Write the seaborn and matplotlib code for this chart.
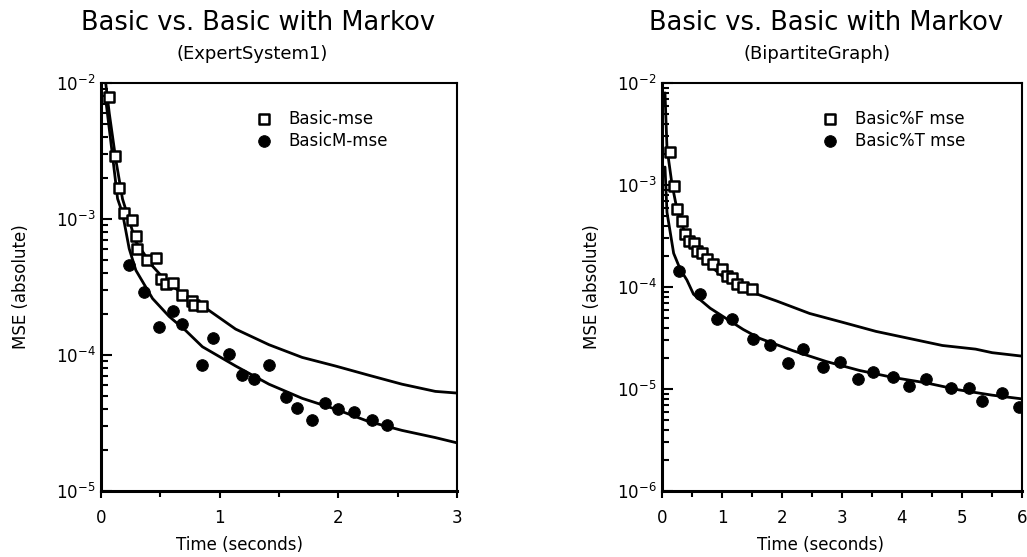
import numpy as np
import pandas as pd
import matplotlib
matplotlib.use('Agg')
import matplotlib.pyplot as plt
import matplotlib.ticker as mticker
import seaborn as sns

# ExpertSystem1 panel
es_basic_t = [0.07, 0.12, 0.154, 0.196, 0.26, 0.294, 0.308, 0.39, 0.46, 0.505,
              0.547, 0.608, 0.687, 0.765, 0.785, 0.855]
es_basic_mse = [7.9e-3, 2.9e-3, 1.69e-3, 1.1e-3, 9.8e-4, 7.5e-4, 6.05e-4, 5.0e-4,
                5.2e-4, 3.6e-4, 3.3e-4, 3.4e-4, 2.76e-4, 2.5e-4, 2.33e-4, 2.3e-4]
es_markov_t = [0.233, 0.364, 0.49, 0.603, 0.687, 0.855, 0.945, 1.08, 1.186, 1.29,
               1.416, 1.556, 1.654, 1.775, 1.892, 1.999, 2.131, 2.285, 2.41]
es_markov_mse = [4.6e-4, 2.9e-4, 1.6e-4, 2.1e-4, 1.7e-4, 8.5e-5, 1.34e-4, 1.02e-4,
                 7.1e-5, 6.7e-5, 8.5e-5, 4.95e-5, 4.1e-5, 3.34e-5, 4.4e-5, 4.0e-5,
                 3.78e-5, 3.34e-5, 3.05e-5]
es_fit_basic_t = [0.04, 0.07, 0.126, 0.182, 0.294, 0.435, 0.575, 0.855, 1.135, 1.416,
                  1.696, 1.976, 2.257, 2.537, 2.818, 3.0]
es_fit_basic = [1.0e-2, 6.0e-3, 2.7e-3, 1.4e-3, 6.8e-4, 4.5e-4, 3.3e-4, 2.3e-4, 1.55e-4,
                1.19e-4, 9.6e-5, 8.3e-5, 7.1e-5, 6.1e-5, 5.4e-5, 5.25e-5]
es_fit_markov_t = [0.04, 0.098, 0.14, 0.182, 0.238, 0.294, 0.435, 0.575, 0.715, 0.855,
                   1.135, 1.416, 1.696, 1.976, 2.257, 2.537, 2.818, 3.0]
es_fit_markov = [7.6e-3, 2.9e-3, 1.41e-3, 1.1e-3, 6.05e-4, 4.2e-4, 2.6e-4, 1.92e-4,
                 1.51e-4, 1.15e-4, 8.3e-5, 6.1e-5, 4.8e-5, 4.0e-5, 3.24e-5, 2.79e-5,
                 2.47e-5, 2.26e-5]

# BipartiteGraph panel
bg_f_t = [0.138, 0.194, 0.249, 0.332, 0.387, 0.442, 0.525, 0.581, 0.664, 0.747,
          0.857, 0.996, 1.079, 1.161, 1.244, 1.355, 1.493]
bg_f_mse = [2.1e-3, 9.8e-4, 5.8e-4, 4.4e-4, 3.3e-4, 2.83e-4, 2.72e-4, 2.23e-4, 2.14e-4,
            1.9e-4, 1.68e-4, 1.49e-4, 1.27e-4, 1.22e-4, 1.08e-4, 1.0e-4, 9.6e-5]
bg_t_t = [0.277, 0.636, 0.913, 1.161, 1.521, 1.798, 2.102, 2.351, 2.683, 2.959,
          3.263, 3.512, 3.844, 4.121, 4.397, 4.812, 5.116, 5.337, 5.669, 5.946]
bg_t_mse = [1.43e-4, 8.5e-5, 4.9e-5, 4.9e-5, 3.1e-5, 2.67e-5, 1.79e-5, 2.46e-5, 1.65e-5,
            1.86e-5, 1.25e-5, 1.46e-5, 1.3e-5, 1.06e-5, 1.25e-5, 1.02e-5, 1.02e-5,
            7.7e-6, 9.05e-6, 6.6e-6]
bg_fit_f_t = [0.05, 0.083, 0.166, 0.249, 0.387, 0.525, 0.802, 1.079, 1.493, 1.908,
              2.461, 3.014, 3.567, 4.121, 4.674, 5.227, 5.503, 6.0]
bg_fit_f = [8e-3, 2.3e-3, 1.02e-3, 5.8e-4, 3.3e-4, 2.4e-4, 1.62e-4, 1.17e-4, 8.9e-5,
            7.3e-5, 5.5e-5, 4.5e-5, 3.67e-5, 3.13e-5, 2.67e-5, 2.46e-5, 2.27e-5, 2.1e-5]
bg_fit_t_t = [0.05, 0.083, 0.194, 0.304, 0.415, 0.525, 0.802, 1.079, 1.355, 1.632,
              2.185, 2.738, 3.291, 3.844, 4.397, 4.95, 5.503, 6.0]
bg_fit_t = [1.5e-3, 5.4e-4, 2.14e-4, 1.49e-4, 1.17e-4, 8.5e-5, 6.2e-5, 4.87e-5, 3.83e-5,
            3.13e-5, 2.37e-5, 1.86e-5, 1.52e-5, 1.3e-5, 1.15e-5, 9.8e-6, 8.7e-6, 8.0e-6]

sns.set_style('ticks')
plt.rcParams['font.family'] = ['DejaVu Sans']
plt.rcParams['text.color'] = 'black'
plt.rcParams['axes.labelcolor'] = 'black'
plt.rcParams['xtick.color'] = 'black'
plt.rcParams['ytick.color'] = 'black'
plt.rcParams['axes.edgecolor'] = 'black'
plt.rcParams['axes.unicode_minus'] = False

fig = plt.figure(figsize=(10.27, 5.57), dpi=100)
ax1 = fig.add_axes([0.0983, 0.1185, 0.3466, 0.7325])
ax2 = fig.add_axes([0.6446, 0.1185, 0.3505, 0.7325])


def draw_panel(ax, sq_t, sq_y, ci_t, ci_y, l1_t, l1_y, l2_t, l2_y, sq_lab, ci_lab):
    sns.lineplot(x=l1_t, y=l1_y, ax=ax, color='black', lw=2, sort=False)
    sns.lineplot(x=l2_t, y=l2_y, ax=ax, color='black', lw=2, sort=False)
    sns.scatterplot(x=sq_t, y=sq_y, ax=ax, marker='s', s=55, facecolor='white',
                    edgecolor='black', linewidth=1.8, label=sq_lab, zorder=3)
    sns.scatterplot(x=ci_t, y=ci_y, ax=ax, marker='o', s=70, color='black',
                    edgecolor='black', label=ci_lab, zorder=3)
    ax.set_yscale('log')
    ax.yaxis.set_major_formatter(mticker.LogFormatterSciNotation())
    ax.yaxis.set_minor_locator(mticker.LogLocator(base=10, subs=np.arange(2, 10)))
    ax.yaxis.set_minor_formatter(mticker.NullFormatter())
    ax.tick_params(axis='y', which='major', direction='in', length=8, width=1.5,
                   labelsize=12, pad=4, left=True)
    ax.tick_params(axis='y', which='minor', direction='in', length=5, width=1.5, left=True)
    ax.tick_params(axis='x', which='major', direction='out', length=5, width=1.5,
                   labelsize=12, pad=8, bottom=True)
    ax.tick_params(axis='x', which='minor', direction='out', length=4, width=1.5, bottom=True)
    ax.xaxis.set_minor_locator(mticker.MultipleLocator(0.5))
    for side in ['left', 'bottom']:
        ax.spines[side].set_linewidth(2.2)
    for side in ['top', 'right']:
        ax.spines[side].set_visible(True)
        ax.spines[side].set_linewidth(1.5)
    ax.set_xlabel('Time (seconds)', fontsize=12)
    ax.set_ylabel('MSE (absolute)', fontsize=12)
    leg = ax.legend(frameon=False, fontsize=12, loc='upper left', labelspacing=0.25,
                    handletextpad=1.0, borderpad=0, handlelength=1.0)
    return leg


draw_panel(ax1, es_basic_t, es_basic_mse, es_markov_t, es_markov_mse,
           es_fit_basic_t, es_fit_basic, es_fit_markov_t, es_fit_markov,
           'Basic-mse', 'BasicM-mse')
ax1.set_xlim(0, 3)
ax1.set_ylim(1e-5, 1e-2)
ax1.set_xticks([0, 1, 2, 3])
ax1.legend_.set_bbox_to_anchor((0.41, 0.955))
ax1.xaxis.set_label_coords(0.39, -0.11)
ax1.yaxis.set_label_coords(-0.2, 0.5)

draw_panel(ax2, bg_f_t, bg_f_mse, bg_t_t, bg_t_mse,
           bg_fit_f_t, bg_fit_f, bg_fit_t_t, bg_fit_t,
           'Basic%F mse', 'Basic%T mse')
ax2.set_xlim(0, 6)
ax2.set_ylim(1e-6, 1e-2)
ax2.set_xticks([0, 1, 2, 3, 4, 5, 6])
ax2.legend_.set_bbox_to_anchor((0.42, 0.955))
ax2.xaxis.set_label_coords(0.44, -0.11)
ax2.yaxis.set_label_coords(-0.17, 0.5)

fig.text(0.251, 0.959, 'Basic vs. Basic with Markov', ha='center', va='center', fontsize=18.5)
fig.text(0.246, 0.903, '(ExpertSystem1)', ha='center', va='center', fontsize=13)
fig.text(0.804, 0.959, 'Basic vs. Basic with Markov', ha='center', va='center', fontsize=18.5)
fig.text(0.796, 0.903, '(BipartiteGraph)', ha='center', va='center', fontsize=13)

plt.savefig('out.png', dpi=100)
